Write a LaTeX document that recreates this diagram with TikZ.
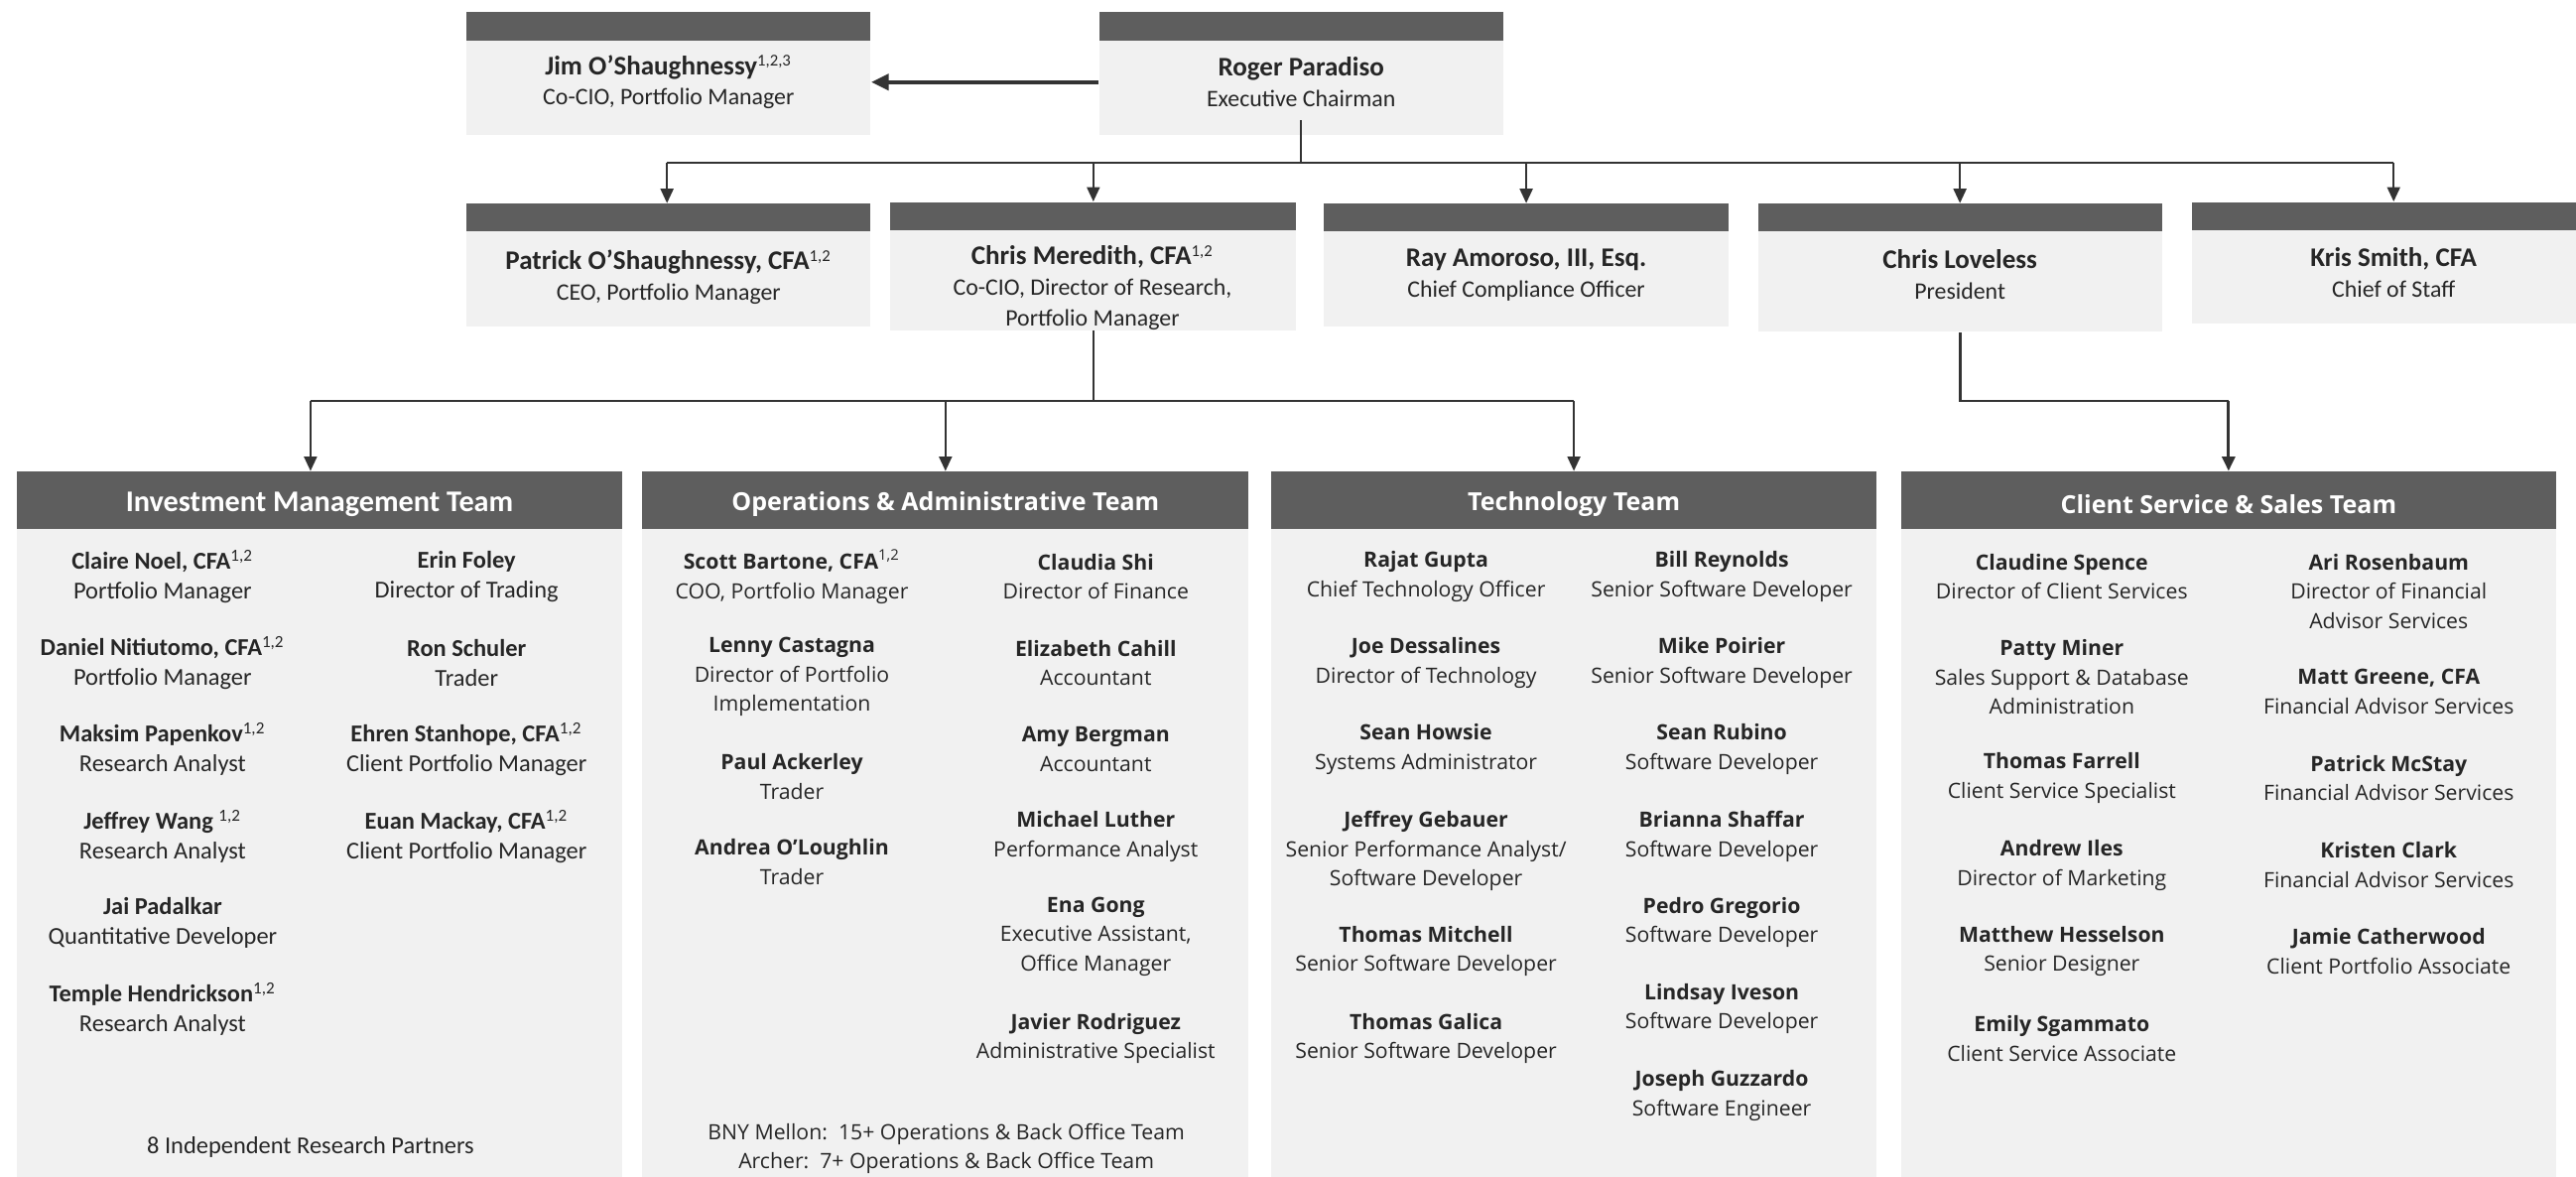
\documentclass[tikz,border=0pt]{standalone}
\usepackage{fontspec}
\newfontfamily\calfont{Carlito}
\newfontfamily\osfont{Open Sans}
\usetikzlibrary{arrows.meta,fit,calc}
\definecolor{hdrgray}{HTML}{5E5E5E}
\definecolor{bodygray}{HTML}{F1F1F1}
\definecolor{txt}{HTML}{262626}
\definecolor{ln}{HTML}{333333}
\tikzset{
  hdrbox/.style={fill=hdrgray, draw=none, inner sep=0pt},
  bodybox/.style={fill=bodygray, draw=none, inner sep=0pt},
  toptext/.style={align=center, text=txt, inner sep=0pt, yshift=-0.02cm,
    font=\calfont\fontsize{8.2}{10.6}\selectfont},
  imem/.style={align=center, text=txt, inner sep=0pt, yshift=-0.04cm,
    font=\calfont\fontsize{8.4}{10.2}\selectfont},
  omem/.style={align=center, text=txt, inner sep=0pt, yshift=-0.04cm,
    font=\osfont\fontsize{7.3}{10.2}\selectfont},
  ihdr/.style={text=white, inner sep=0pt, yshift=-0.04cm, font=\calfont\bfseries\fontsize{10.4}{12}\selectfont},
  ohdr/.style={text=white, inner sep=0pt, yshift=-0.04cm, font=\osfont\bfseries\fontsize{8.6}{11}\selectfont},
  conn/.style={draw=ln, line width=0.6pt},
  arr/.style={conn, -{Triangle[length=5pt,width=4.5pt]}},
  arrthick/.style={draw=ln, line width=1.3pt, -{Triangle[length=6pt,width=5.5pt]}},
  connthick/.style={draw=ln, line width=1.0pt},
}
\newcommand\nm[1]{{\fontsize{9.3}{10.6}\selectfont\bfseries #1}}
\begin{document}
\begin{tikzpicture}[x=0.02cm,y=-0.02cm]
\clip (0,0) rectangle (1568,716);
\fill[white] (0,0) rectangle (1568,716);

% ---- top row ----
\node[hdrbox, fit={(284,7) (530,25)}] (jimh) {};
\node[bodybox, fit={(284,25) (530,82)}] (jimb) {};
\node[toptext] (jim) at (407,49) {\nm{Jim O’Shaughnessy}\textsuperscript{1,2,3}\\Co-CIO, Portfolio Manager};

\node[hdrbox, fit={(669,7) (915,25)}] (rogh) {};
\node[bodybox, fit={(669,25) (915,82)}] (rogb) {};
\node[toptext] (rog) at (792,49) {\nm{Roger Paradiso}\\Executive Chairman};

% ---- second row ----
\node[hdrbox, fit={(284,124) (530,141)}] (path) {};
\node[bodybox, fit={(284,141) (530,199)}] (patb) {};
\node[toptext] (pat) at (407,167.5) {\nm{Patrick O’Shaughnessy, CFA}\textsuperscript{1,2}\\CEO, Portfolio Manager};

\node[hdrbox, fit={(542,123) (789,140)}] (cmh) {};
\node[bodybox, fit={(542,140) (789,201)}] (cmb) {};
\node[toptext] (cm) at (665,174) {\nm{Chris Meredith, CFA}\textsuperscript{1,2}\\Co-CIO, Director of Research,\\Portfolio Manager};

\node[hdrbox, fit={(806,124) (1052,141)}] (rayh) {};
\node[bodybox, fit={(806,141) (1052,199)}] (rayb) {};
\node[toptext] (ray) at (929,166.5) {\nm{Ray Amoroso, III, Esq.}\\Chief Compliance Officer};

\node[hdrbox, fit={(1070,124) (1316,141)}] (lovh) {};
\node[bodybox, fit={(1070,141) (1316,202)}] (lovb) {};
\node[toptext] (lov) at (1193,166) {\nm{Chris Loveless}\\President};

\node[hdrbox, fit={(1334,123) (1580,140)}] (krih) {};
\node[bodybox, fit={(1334,140) (1580,197)}] (krib) {};
\node[toptext] (kri) at (1457,165) {\nm{Kris Smith, CFA}\\Chief of Staff};

% ---- teams ----
\node[hdrbox, fit={(10,287) (379,322)}] (invh) {};
\node[bodybox, fit={(10,322) (379,720)}] (invb) {};
\node[ihdr] (invt) at (194.5,305) {Investment Management Team};

\node[hdrbox, fit={(391,287) (760,322)}] (opsh) {};
\node[bodybox, fit={(391,322) (760,720)}] (opsb) {};
\node[ohdr] (opst) at (575.5,305) {Operations \& Administrative Team};

\node[hdrbox, fit={(774,287) (1142,322)}] (tech) {};
\node[bodybox, fit={(774,322) (1142,720)}] (tecb) {};
\node[ohdr] (tect) at (958,305) {Technology Team};

\node[hdrbox, fit={(1157,287) (1556,322)}] (clih) {};
\node[bodybox, fit={(1157,322) (1556,720)}] (clib) {};
\node[ohdr] (clit) at (1356.5,305) {Client Service \& Sales Team};

% ---- connectors ----
\coordinate (bus1) at (0,99);
\coordinate (bus2) at (0,244);
\draw[arrthick] (rogb.west |- jim) -- (jimb.east |- jim);
\draw[conn] ($(rogb.south)+(0,-9)$) -- (rogb.south |- bus1);
\draw[conn] ($(path.north |- bus1)+(-1,0)$) -- (krih.north |- bus1);
\draw[arr] ($(path.north |- bus1)+(-1,0)$) -- ($(path.north)+(-1,0)$);
\draw[arr] (cmh.north |- bus1) -- (cmh.north);
\draw[arr] (rayh.north |- bus1) -- (rayh.north);
\draw[arr] (lovh.north |- bus1) -- (lovh.north);
\draw[arr] (krih.north |- bus1) -- (krih.north);

\draw[conn] (cmb.south) -- (cmb.south |- bus2);
\draw[conn] ($(invh.north |- bus2)+(-5.5,0)$) -- (tech.north |- bus2);
\draw[arr] ($(invh.north |- bus2)+(-5.5,0)$) -- ($(invh.north)+(-5.5,0)$);
\draw[arr] (opsh.north |- bus2) -- (opsh.north);
\draw[arr] (tech.north |- bus2) -- (tech.north);

\draw[connthick] (lovb.south) -- (lovb.south |- bus2) -- (clih.north |- bus2);
\draw[arr, line width=1.0pt] (clih.north |- bus2) -- (clih.north);

% ---- Investment Management ----
\node[imem] (i1) at (99,349) {\textbf{Claire Noel, CFA}\textsuperscript{1,2}\\Portfolio Manager};
\node[imem] (i2) at (99,401.5) {\textbf{Daniel Nitiutomo, CFA}\textsuperscript{1,2}\\Portfolio Manager};
\node[imem] (i3) at (99,454) {\textbf{Maksim Papenkov}\textsuperscript{1,2}\\Research Analyst};
\node[imem] (i4) at (99,507) {\textbf{Jeffrey Wang} \textsuperscript{1,2}\\Research Analyst};
\node[imem] (i5) at (99,559.5) {\textbf{Jai Padalkar}\\Quantitative Developer};
\node[imem] (i6) at (99,612) {\textbf{Temple Hendrickson}\textsuperscript{1,2}\\Research Analyst};
\node[imem] (i7) at (284,349) {\textbf{Erin Foley}\\Director of Trading};
\node[imem] (i8) at (284,401.5) {\textbf{Ron Schuler}\\Trader};
\node[imem] (i9) at (284,454) {\textbf{Ehren Stanhope, CFA}\textsuperscript{1,2}\\Client Portfolio Manager};
\node[imem] (i10) at (284,507) {\textbf{Euan Mackay, CFA}\textsuperscript{1,2}\\Client Portfolio Manager};
\node[imem] (ifoot) at (189,696) {8 Independent Research Partners};

% ---- Operations ----
\node[omem] (o1) at (482,349) {\textbf{Scott Bartone, CFA}\textsuperscript{1,2}\\COO, Portfolio Manager};
\node[omem] (o2) at (482,410) {\textbf{Lenny Castagna}\\Director of Portfolio\\Implementation};
\node[omem] (o3) at (482,470.5) {\textbf{Paul Ackerley}\\Trader};
\node[omem] (o4) at (482,522.5) {\textbf{Andrea O’Loughlin}\\Trader};
\node[omem] (o5) at (667,349) {\textbf{Claudia Shi}\\Director of Finance};
\node[omem] (o6) at (667,401.5) {\textbf{Elizabeth Cahill}\\Accountant};
\node[omem] (o7) at (667,454) {\textbf{Amy Bergman}\\Accountant};
\node[omem] (o8) at (667,507) {\textbf{Michael Luther}\\Performance Analyst};
\node[omem] (o9) at (667,568) {\textbf{Ena Gong}\\Executive Assistant,\\Office Manager};
\node[omem] (o10) at (667,630) {\textbf{Javier Rodriguez}\\Administrative Specialist};
\node[omem] (ofoot) at (576,697) {BNY Mellon:\ \ 15+ Operations \& Back Office Team\\Archer:\ \ 7+ Operations \& Back Office Team};

% ---- Technology ----
\node[omem] (t1) at (868,349) {\textbf{Rajat Gupta}\\Chief Technology Officer};
\node[omem] (t2) at (868,401.5) {\textbf{Joe Dessalines}\\Director of Technology};
\node[omem] (t3) at (868,454) {\textbf{Sean Howsie}\\Systems Administrator};
\node[omem] (t4) at (868,516) {\textbf{Jeffrey Gebauer}\\Senior Performance Analyst/\\Software Developer};
\node[omem] (t5) at (868,577) {\textbf{Thomas Mitchell}\\Senior Software Developer};
\node[omem] (t6) at (868,630) {\textbf{Thomas Galica}\\Senior Software Developer};
\node[omem] (t7) at (1048,349) {\textbf{Bill Reynolds}\\Senior Software Developer};
\node[omem] (t8) at (1048,401.5) {\textbf{Mike Poirier}\\Senior Software Developer};
\node[omem] (t9) at (1048,454) {\textbf{Sean Rubino}\\Software Developer};
\node[omem] (t10) at (1048,507) {\textbf{Brianna Shaffar}\\Software Developer};
\node[omem] (t11) at (1048,559.5) {\textbf{Pedro Gregorio}\\Software Developer};
\node[omem] (t12) at (1048,612) {\textbf{Lindsay Iveson}\\Software Developer};
\node[omem] (t13) at (1048,665) {\textbf{Joseph Guzzardo}\\Software Engineer};

% ---- Client Service ----
\node[omem] (c1) at (1255,349) {\textbf{Claudine Spence}\\Director of Client Services};
\node[omem] (c2) at (1255,410) {\textbf{Patty Miner}\\Sales Support \& Database\\Administration};
\node[omem] (c3) at (1255,471.5) {\textbf{Thomas Farrell}\\Client Service Specialist};
\node[omem] (c4) at (1255,524.5) {\textbf{Andrew Iles}\\Director of Marketing};
\node[omem] (c5) at (1255,577) {\textbf{Matthew Hesselson}\\Senior Designer};
\node[omem] (c6) at (1255,630) {\textbf{Emily Sgammato}\\Client Service Associate};
\node[omem] (c7) at (1454,358) {\textbf{Ari Rosenbaum}\\Director of Financial\\Advisor Services};
\node[omem] (c8) at (1454,419) {\textbf{Matt Greene, CFA}\\Financial Advisor Services};
\node[omem] (c9) at (1454,471.5) {\textbf{Patrick McStay}\\Financial Advisor Services};
\node[omem] (c10) at (1454,524.5) {\textbf{Kristen Clark}\\Financial Advisor Services};
\node[omem] (c11) at (1454,577) {\textbf{Jamie Catherwood}\\Client Portfolio Associate};
\end{tikzpicture}
\end{document}
